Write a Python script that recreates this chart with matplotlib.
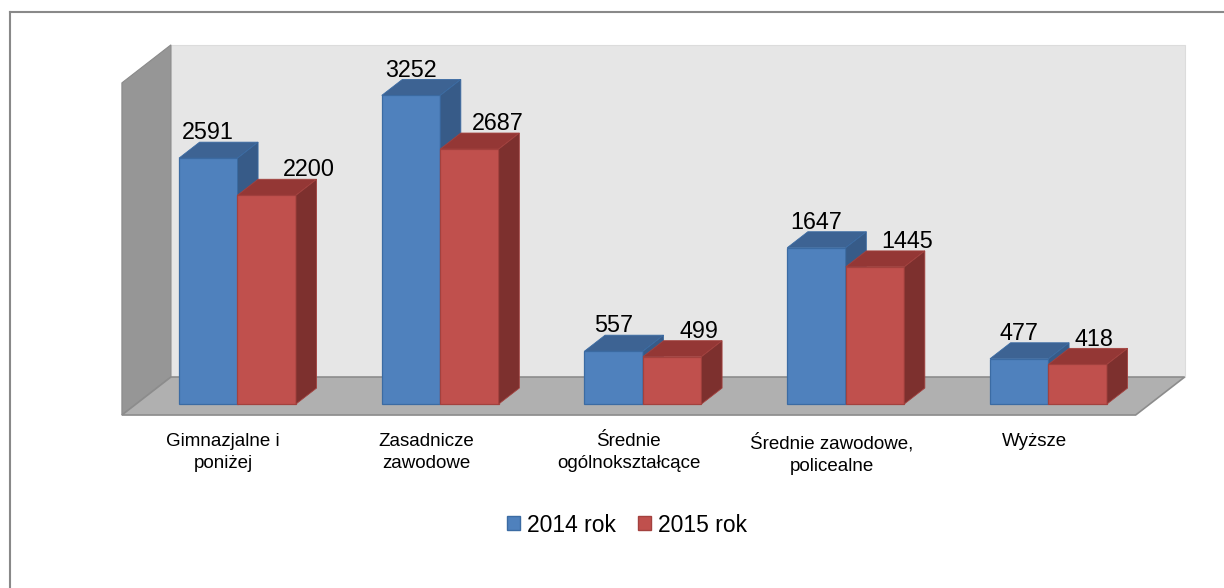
import matplotlib.pyplot as plt
from matplotlib.patches import Polygon, Patch
from matplotlib.lines import Line2D

# data
categories = ['Gimnazjalne i\nponiżej', 'Zasadnicze\nzawodowe', 'Średnie\nogólnokształcące',
              'Średnie zawodowe,\npolicealne', 'Wyższe']
series_names = ['2014 rok', '2015 rok']
values_2014 = [2591, 3252, 557, 1647, 477]
values_2015 = [2200, 2687, 499, 1445, 418]
value_max = 3500

# style / geometry (pixels of a 1224x588 canvas)
W, H = 1224, 588
PX_CAT = 202.75        # pixels per category
PX_VAL = 0.0949        # pixels per value unit
X0_PX, Y0_PX = 237.5, 184   # where category 0 / value 0 sit (from bottom)
BAR_W = 58.5 / PX_CAT
DEPTH_DX = 49 / PX_CAT      # one full floor depth, in data units
DEPTH_DY = 38 / PX_VAL
D_BAR0, D_BAR1 = 0.29, 0.71
red_label_nudge = [30, 20, 19, 23, 12]   # points

colors = {
    'blue': ('#4f81bd', '#3d6393', '#375b88', '#3b6ba3'),
    'red': ('#c0504d', '#943735', '#7d302e', '#a3413e'),
}

plt.rcParams['font.family'] = ['Liberation Sans', 'DejaVu Sans']

fig = plt.figure(figsize=(W / 100, H / 100), dpi=100)
ax = fig.add_axes([0, 0, 1, 1])
ax.set_xlim(-X0_PX / PX_CAT, (W - X0_PX) / PX_CAT)
ax.set_ylim(-Y0_PX / PX_VAL, (H - Y0_PX) / PX_VAL)
ax.axis('off')


def proj(x, v, d):
    return (x + (d - D_BAR0) * DEPTH_DX, v + (d - D_BAR0) * DEPTH_DY)


n = len(categories)
xl, xr = -0.5, n - 0.5

# walls and floor
floor = [proj(xl, 0, 0), proj(xr, 0, 0), proj(xr, 0, 1), proj(xl, 0, 1)]
left_wall = [proj(xl, 0, 0), proj(xl, 0, 1), proj(xl, value_max, 1), proj(xl, value_max, 0)]
back_wall = [proj(xl, 0, 1), proj(xr, 0, 1), proj(xr, value_max, 1), proj(xl, value_max, 1)]
ax.add_patch(Polygon(back_wall, closed=True, facecolor='#e6e6e6', edgecolor='#dcdcdc', lw=0.8, zorder=1))
ax.add_patch(Polygon(left_wall, closed=True, facecolor='#969696', edgecolor='#8a8a8a', lw=0.8, zorder=1))
ax.add_patch(Polygon(floor, closed=True, facecolor='#b0b0b0', edgecolor='#8c8c8c', lw=1.2, zorder=2))

bdx = (D_BAR1 - D_BAR0) * DEPTH_DX
bdy = (D_BAR1 - D_BAR0) * DEPTH_DY

for s, (vals, key) in enumerate([(values_2014, 'blue'), (values_2015, 'red')]):
    front, top, side, edge = colors[key]
    lefts = [i - BAR_W + s * BAR_W for i in range(n)]
    bars = ax.bar(lefts, vals, width=BAR_W, align='edge', color=front, edgecolor=edge, linewidth=0.9)
    for i, (bar, x0, v) in enumerate(zip(bars, lefts, vals)):
        z = 10 + 2 * i + s
        bar.set_zorder(z)
        ax.add_patch(Polygon([(x0, v), (x0 + BAR_W, v), (x0 + BAR_W + bdx, v + bdy), (x0 + bdx, v + bdy)],
                             closed=True, facecolor=top, edgecolor=edge, lw=0.6, zorder=z))
        ax.add_patch(Polygon([(x0 + BAR_W, 0), (x0 + BAR_W + bdx, bdy), (x0 + BAR_W + bdx, v + bdy), (x0 + BAR_W, v)],
                             closed=True, facecolor=side, edgecolor=edge, lw=0.6, zorder=z))
        nudge = red_label_nudge[i] if s == 1 else 0
        ax.annotate(str(v), (x0 + BAR_W / 2, v + bdy), xytext=(nudge, 2), textcoords='offset points',
                    ha='center', va='baseline', fontsize=16.8, color='black', zorder=30)

for i, cat in enumerate(categories):
    ax.annotate(cat, proj(i, 0, 0), xytext=(0, -13), textcoords='offset points',
                ha='center', va='top', fontsize=13.5, linespacing=1.4, color='black')

handles = [Patch(facecolor=colors['blue'][0], edgecolor=colors['blue'][3]),
           Patch(facecolor=colors['red'][0], edgecolor=colors['red'][3])]
fig.legend(handles, series_names, loc='center', bbox_to_anchor=(627 / W, 1 - 525 / H), ncol=2,
           frameon=False, fontsize=16.5, handlelength=0.55, handleheight=0.55,
           handletextpad=0.3, columnspacing=1.0, borderpad=0)

# outer chart-area border (only top and left fall inside the picture)
top_y = 1 - 11.5 / H
left_x = 9.5 / W
fig.add_artist(Line2D([left_x, 1.0], [top_y, top_y], transform=fig.transFigure, color='#898989', lw=1.5))
fig.add_artist(Line2D([left_x, left_x], [0.0, top_y], transform=fig.transFigure, color='#898989', lw=1.5))

fig.savefig('out.png', dpi=100)
